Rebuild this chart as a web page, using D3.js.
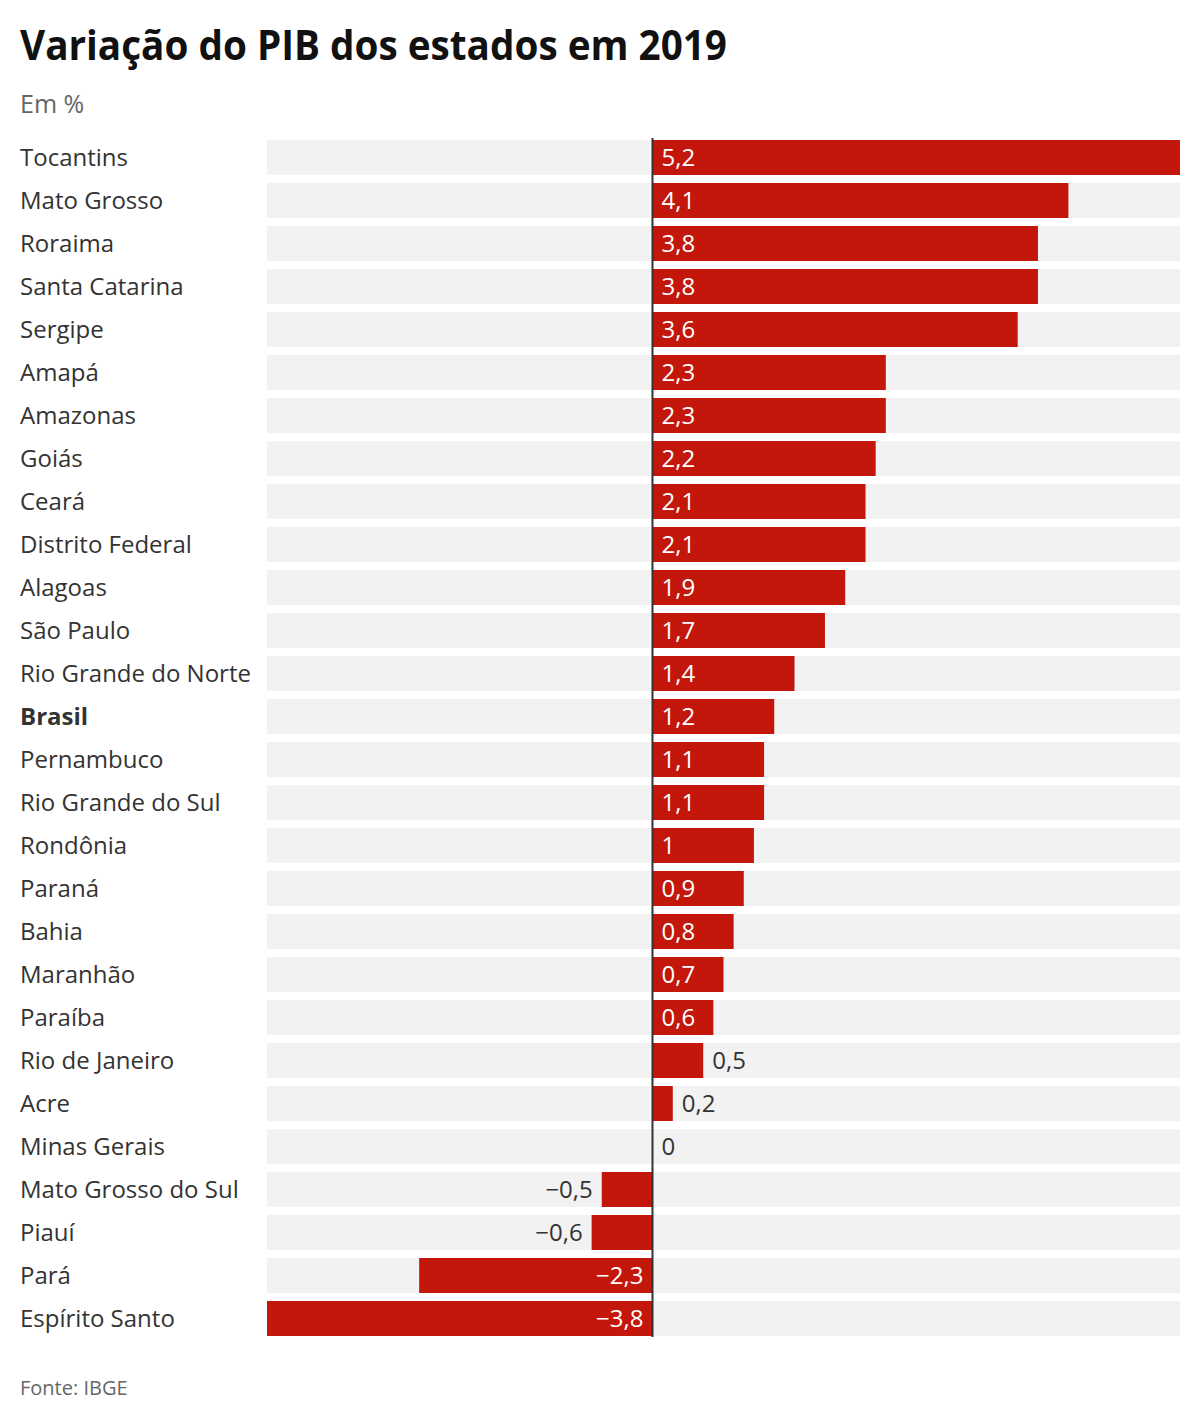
<!DOCTYPE html>
<html><head><meta charset="utf-8">
<script src="https://cdn.jsdelivr.net/npm/d3@7"></script>
<style>body{margin:0;background:#fff;} svg{display:block;font-family:"Open Sans",sans-serif;}</style>
</head><body>
<script>
const states = ["Tocantins","Mato Grosso","Roraima","Santa Catarina","Sergipe","Amapá","Amazonas","Goiás","Ceará","Distrito Federal","Alagoas","São Paulo","Rio Grande do Norte","Brasil","Pernambuco","Rio Grande do Sul","Rondônia","Paraná","Bahia","Maranhão","Paraíba","Rio de Janeiro","Acre","Minas Gerais","Mato Grosso do Sul","Piauí","Pará","Espírito Santo"];
const values = [5.2,4.1,3.8,3.8,3.6,2.3,2.3,2.2,2.1,2.1,1.9,1.7,1.4,1.2,1.1,1.1,1,0.9,0.8,0.7,0.6,0.5,0.2,0,-0.5,-0.6,-2.3,-3.8];
const data = states.map((s,i)=>({name:s,value:values[i]}));

const W=1200,H=1420;
const svg=d3.select("body").append("svg").attr("width",W).attr("height",H);
svg.append("text").attr("x",20).attr("y",60).attr("font-size",41).attr("font-weight",700)
  .attr("fill","#111").attr("textLength",707).attr("lengthAdjust","spacingAndGlyphs")
  .text("Variação do PIB dos estados em 2019");
svg.append("text").attr("x",20).attr("y",113).attr("font-size",25).attr("fill","#666").text("Em %");
svg.append("text").attr("x",20).attr("y",1395).attr("font-size",20).attr("fill","#666").text("Fonte: IBGE");

const x=d3.scaleLinear().domain([-3.8,5.2]).range([267,1180]);
const step=43, gap=8, plotTop=140;
const y=d3.scaleBand().domain(states).range([plotTop,plotTop+step*states.length-gap]).paddingInner(gap/step).paddingOuter(0);

const g=svg.append("g");
g.selectAll("rect.bg").data(data).join("rect").attr("class","bg")
  .attr("x",x.range()[0]).attr("width",x.range()[1]-x.range()[0])
  .attr("y",d=>y(d.name)).attr("height",y.bandwidth()).attr("fill","#f2f2f2");
g.selectAll("rect.bar").data(data).join("rect").attr("class","bar")
  .attr("x",d=>x(Math.min(0,d.value))).attr("width",d=>Math.abs(x(d.value)-x(0)))
  .attr("y",d=>y(d.name)).attr("height",y.bandwidth()).attr("fill","#c4170c");
g.selectAll("text.name").data(data).join("text").attr("class","name")
  .attr("x",20).attr("y",d=>y(d.name)+y.bandwidth()/2+8).attr("font-size",24)
  .attr("font-weight",d=>d.name==="Brasil"?700:400).attr("fill","#333").text(d=>d.name);

const fmt=v=>(v<0?"\u2212":"")+String(Math.abs(v)).replace(".",",");
const pad=9;
g.selectAll("text.val").data(data).join("text").attr("class","val")
  .attr("y",d=>y(d.name)+y.bandwidth()/2+8).attr("font-size",24).text(d=>fmt(d.value))
  .each(function(d){
    const tw=this.getComputedTextLength();
    const bw=Math.abs(x(d.value)-x(0));
    const inside = bw>=tw+2*pad+6 && d.value!==0;
    const s=d3.select(this);
    if(d.value>=0){
      s.attr("text-anchor","start").attr("x",inside? x(0)+pad : x(d.value)+pad);
    } else {
      s.attr("text-anchor","end").attr("x",inside? x(0)-pad : x(d.value)-pad);
    }
    s.attr("fill",inside?"#fff":"#333");
  });

svg.append("line").attr("x1",x(0)).attr("x2",x(0)).attr("y1",plotTop-2).attr("y2",y(states[states.length-1])+y.bandwidth()+1)
  .attr("stroke","#333").attr("stroke-width",2);
</script>
</body></html>
